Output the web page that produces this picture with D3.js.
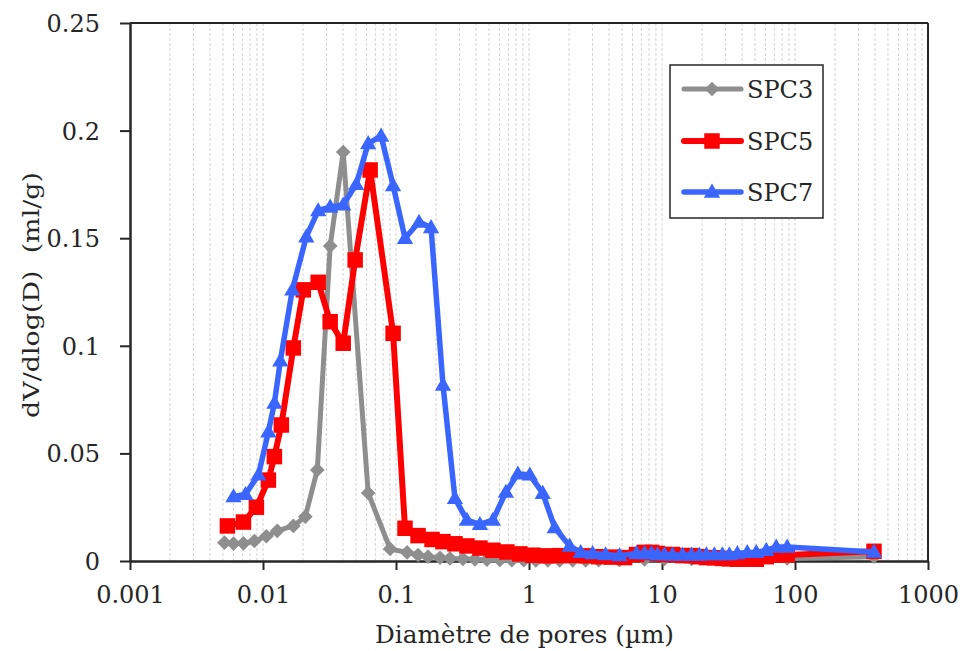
<!DOCTYPE html>
<html>
<head>
<meta charset="utf-8">
<script src="https://cdn.jsdelivr.net/npm/d3@7"></script>
<style>
html,body{margin:0;padding:0;background:#fff;}
svg{display:block;}
text{font-family:"DejaVu Serif",serif;fill:#262626;}
</style>
</head>
<body>
<svg id="chart" width="962" height="651"></svg>
<script>
// ---- data ----
const seriesNames = ["SPC3", "SPC5", "SPC7"];

const spc3Diam = [0.00513,0.00600,0.00713,0.00862,0.0106,0.0128,0.0169,0.0208,0.0256,0.0320,0.0401,0.0618,0.0903,0.1212,0.1465,0.1741,0.2142,0.2545,0.3187,0.3921,0.4826,0.604,0.743,0.914,1.125,1.384,1.702,2.131,2.668,3.339,4.797,7.39,10.44,16.65,28.43,51.15,87.39,392.6];
const spc3Vals = [0.0085,0.0081,0.0082,0.0093,0.0115,0.0140,0.0163,0.0206,0.0423,0.1464,0.1900,0.0316,0.0056,0.0040,0.0028,0.0020,0.0015,0.0012,0.0010,0.0008,0.0006,0.0005,0.0004,0.0004,0.0003,0.0003,0.0003,0.0003,0.0003,0.0004,0.0005,0.0008,0.0010,0.0010,0.0010,0.0010,0.0012,0.0020];

const spc5Diam = [0.0054,0.00713,0.00892,0.01098,0.01218,0.01374,0.0169,0.0201,0.0260,0.0320,0.0401,0.0493,0.0639,0.0951,0.1169,0.1465,0.1866,0.2256,0.2775,0.3415,0.4275,0.5353,0.6816,0.8531,1.068,1.360,1.702,2.131,2.668,3.339,4.180,5.233,6.436,7.39,8.34,9.25,10.44,11.99,14.25,16.65,19.11,21.57,24.76,28.43,32.09,36.85,43.79,51.15,60.79,72.24,87.39,392.6];
const spc5Vals = [0.0163,0.0181,0.0250,0.0376,0.0485,0.0632,0.0990,0.1260,0.1295,0.1112,0.1012,0.1399,0.1817,0.1058,0.0152,0.0118,0.0100,0.0090,0.0080,0.0070,0.0060,0.0050,0.0042,0.0033,0.0027,0.0024,0.0025,0.0026,0.0024,0.0020,0.0018,0.0016,0.0030,0.0040,0.0040,0.0035,0.0030,0.0030,0.0025,0.0025,0.0020,0.0016,0.0015,0.0012,0.0010,0.0008,0.0008,0.0008,0.0020,0.0028,0.0028,0.0045];

const spc7Diam = [0.00600,0.00738,0.00924,0.01098,0.01218,0.0135,0.01662,0.02116,0.0260,0.0320,0.0401,0.0502,0.0618,0.0773,0.0951,0.1169,0.1490,0.1834,0.2256,0.2775,0.3415,0.4275,0.5353,0.6699,0.8241,1.014,1.269,1.561,2.023,2.447,3.009,3.767,4.797,6.436,7.39,8.34,9.25,10.44,11.99,14.25,16.65,19.11,21.57,24.76,28.43,32.09,36.85,43.79,51.15,60.79,72.24,87.39,392.6];
const spc7Vals = [0.0299,0.0310,0.0400,0.0600,0.0734,0.0930,0.1260,0.1507,0.1628,0.1645,0.1655,0.1750,0.1940,0.1975,0.1745,0.1500,0.1575,0.1550,0.0818,0.0291,0.0190,0.0170,0.0190,0.0320,0.0405,0.0400,0.0315,0.0155,0.0070,0.0040,0.0035,0.0030,0.0025,0.0035,0.0035,0.0035,0.0030,0.0030,0.0028,0.0028,0.0028,0.0028,0.0030,0.0030,0.0030,0.0030,0.0035,0.0040,0.0040,0.0050,0.0065,0.0065,0.0042];

const xTickValues = [0.001, 0.01, 0.1, 1, 10, 100, 1000];
const xTickLabels = ["0.001", "0.01", "0.1", "1", "10", "100", "1000"];
const yTickValues = [0, 0.05, 0.1, 0.15, 0.2, 0.25];
const yTickLabels = ["0", "0.05", "0.1", "0.15", "0.2", "0.25"];

const xTitle = "Diamètre de pores (µm)";
const yTitle = "dV/dlog(D)\u00a0 (ml/g)";

(function () {
// ---- layout ----
const svg = d3.select("#chart");
const pL = 130, pR = 928, pT = 23, pB = 561;
const x = d3.scaleLog().domain([0.001, 1000]).range([pL, pR]);
const y = d3.scaleLinear().domain([0, 0.25]).range([pB, pT]);

// minor vertical gridlines
const grid = [];
for (let k = -3; k <= 2; k++) {
  for (let m = 1; m <= 9; m++) {
    const v = m * Math.pow(10, k);
    if (v > 0.0011 && v < 999) grid.push(v);
  }
}
svg.append("g").selectAll("line").data(grid).join("line")
  .attr("x1", d => x(d)).attr("x2", d => x(d))
  .attr("y1", pT).attr("y2", pB)
  .attr("stroke", "#d4d4d4").attr("stroke-width", 1)
  .attr("stroke-dasharray", "3,2");

// frame
svg.append("line").attr("x1", pL).attr("x2", pR).attr("y1", pT).attr("y2", pT)
  .attr("stroke", "#262626").attr("stroke-width", 2);
svg.append("line").attr("x1", pR).attr("x2", pR).attr("y1", pT).attr("y2", pB)
  .attr("stroke", "#262626").attr("stroke-width", 2);

// axes
const xAxis = d3.axisBottom(x).tickValues(xTickValues)
  .tickFormat((d, i) => xTickLabels[i]).tickSizeInner(9).tickSizeOuter(0);
const gx = svg.append("g").attr("transform", `translate(0,${pB})`).call(xAxis);
gx.select(".domain").attr("stroke", "#262626").attr("stroke-width", 2.5);
gx.selectAll(".tick line").attr("stroke", "#262626").attr("stroke-width", 2);
gx.selectAll(".tick text").attr("font-family", "DejaVu Serif").attr("font-size", 24)
  .attr("fill", "#262626").attr("y", 25).attr("dy", "0.71em");

const yAxis = d3.axisLeft(y).tickValues(yTickValues)
  .tickFormat((d, i) => yTickLabels[i]).tickSizeInner(10).tickSizeOuter(0);
const gy = svg.append("g").attr("transform", `translate(${pL},0)`).call(yAxis);
gy.select(".domain").attr("stroke", "#262626").attr("stroke-width", 2.5);
gy.selectAll(".tick line").attr("stroke", "#262626").attr("stroke-width", 2);
gy.selectAll(".tick text").attr("font-family", "DejaVu Serif").attr("font-size", 24)
  .attr("fill", "#262626").attr("x", -30).attr("dy", "0.35em");

// titles
svg.append("text").attr("x", 524.5).attr("y", 643)
  .attr("text-anchor", "middle").attr("font-size", 24)
  .attr("textLength", 299).attr("lengthAdjust", "spacingAndGlyphs").text(xTitle);
svg.append("text").attr("transform", `translate(39,295) rotate(-90)`)
  .attr("text-anchor", "middle").attr("font-size", 22)
  .attr("textLength", 246).attr("lengthAdjust", "spacingAndGlyphs").text(yTitle);

// series
const series = [
  {name: seriesNames[0], diam: spc3Diam, vals: spc3Vals, color: "#8e8e8e", width: 5, shape: "diamond"},
  {name: seriesNames[1], diam: spc5Diam, vals: spc5Vals, color: "#ff0000", width: 6, shape: "square"},
  {name: seriesNames[2], diam: spc7Diam, vals: spc7Vals, color: "#3a66ff", width: 5.5, shape: "triangle"}
];

function markerPath(shape) {
  if (shape === "diamond") return d3.symbol().type(d3.symbolSquare).size(108)();
  if (shape === "square") return d3.symbol().type(d3.symbolSquare).size(240)();
  return d3.symbol().type(d3.symbolTriangle).size(115)();
}
function markerTransform(shape, px, py) {
  if (shape === "diamond") return `translate(${px},${py}) rotate(45)`;
  if (shape === "triangle") return `translate(${px},${py + 1})`;
  return `translate(${px},${py})`;
}

const line = d3.line().x(d => x(d[0])).y(d => y(d[1]));
series.forEach(s => {
  const pts = s.diam.map((d, i) => [d, s.vals[i]]);
  const g = svg.append("g");
  g.append("path").datum(pts).attr("d", line)
    .attr("fill", "none").attr("stroke", s.color).attr("stroke-width", s.width)
    .attr("stroke-linejoin", "round").attr("stroke-linecap", "round");
  g.selectAll("path.m").data(pts).join("path").attr("class", "m")
    .attr("d", markerPath(s.shape))
    .attr("transform", d => markerTransform(s.shape, x(d[0]), y(d[1])))
    .attr("fill", s.color);
});

// legend
const lg = svg.append("g");
lg.append("rect").attr("x", 670).attr("y", 65).attr("width", 153).attr("height", 153)
  .attr("fill", "#fff").attr("stroke", "#262626").attr("stroke-width", 1.5);
const legY = [89, 141, 192];
series.forEach((s, i) => {
  const yy = legY[i];
  lg.append("line").attr("x1", 684).attr("x2", 741).attr("y1", yy).attr("y2", yy)
    .attr("stroke", s.color).attr("stroke-width", s.width).attr("stroke-linecap", "round");
  lg.append("path").attr("d", markerPath(s.shape))
    .attr("transform", markerTransform(s.shape, 712, yy)).attr("fill", s.color);
  lg.append("text").attr("x", 747).attr("y", yy).attr("dy", "0.36em")
    .attr("font-size", 24).text(s.name);
});
})();
</script>
</body>
</html>
